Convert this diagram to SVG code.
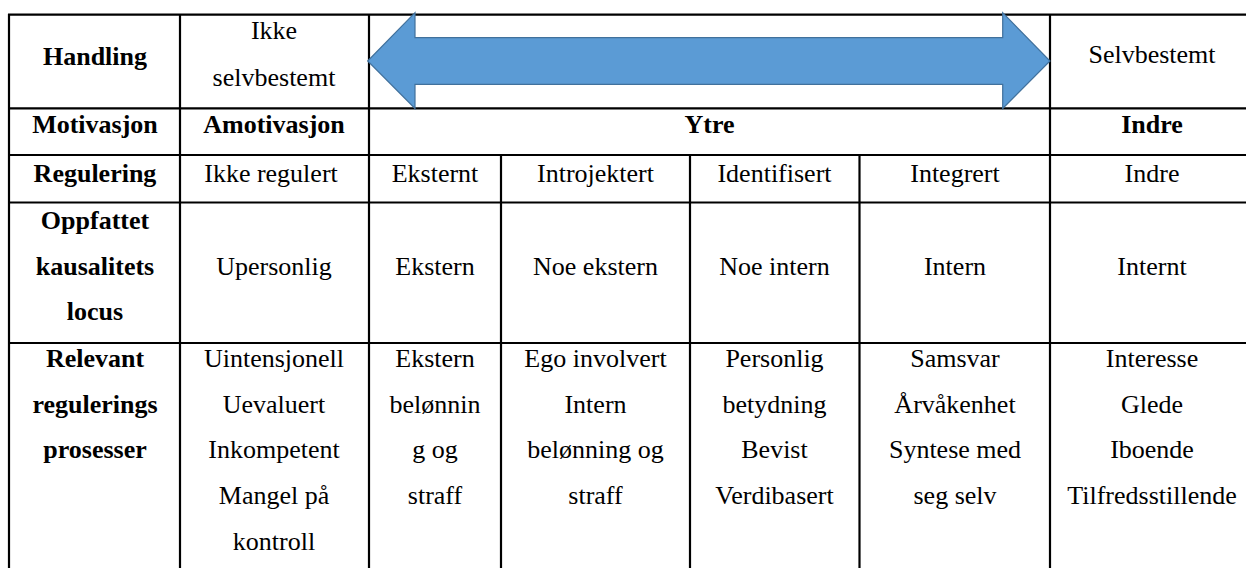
<svg xmlns="http://www.w3.org/2000/svg" width="1246" height="568" viewBox="0 0 1246 568">
<style>
.g{stroke:#000;stroke-width:2.2;fill:none}
.t text{font-size:26px;fill:#000;text-anchor:middle}
.b{font-weight:bold}
.arrow{fill:#5B9BD5;stroke:#41719C;stroke-width:1.2}
</style>
<rect width="1246" height="568" fill="#fff"/>
<g id="grid" class="g">
<line x1="8" y1="14.7" x2="1246" y2="14.7"/>
<line x1="8" y1="108.3" x2="1246" y2="108.3"/>
<line x1="8" y1="155" x2="1246" y2="155"/>
<line x1="8" y1="202.5" x2="1246" y2="202.5"/>
<line x1="8" y1="343" x2="1246" y2="343"/>
<line x1="9" y1="14" x2="9" y2="568"/>
<line x1="180" y1="14" x2="180" y2="568"/>
<line x1="369" y1="14" x2="369" y2="568"/>
<line x1="1050" y1="14" x2="1050" y2="568"/>
<line x1="501" y1="155" x2="501" y2="568"/>
<line x1="690" y1="155" x2="690" y2="568"/>
<line x1="859.5" y1="155" x2="859.5" y2="568"/>
</g>
<g id="arrow">
<polygon class="arrow" points="367.7,61 415,12.7 415,37.7 1002.7,37.7 1002.7,12.7 1050,61 1002.7,108.5 1002.7,84.3 415,84.3 415,108.5"/>
</g>
<g class="t">
<g id="row-handling" font-family="Liberation Serif">
<text class="b" x="95" y="65">Handling</text>
<text x="274" y="39">Ikke</text>
<text x="274" y="86">selvbestemt</text>
<text x="1152" y="63">Selvbestemt</text>
</g>
<g id="row-motivasjon" font-family="Liberation Serif">
<text class="b" x="95" y="133">Motivasjon</text>
<text class="b" x="274" y="133">Amotivasjon</text>
<text class="b" x="709.5" y="133">Ytre</text>
<text class="b" x="1152" y="133">Indre</text>
</g>
<g id="row-regulering" font-family="Liberation Serif">
<text class="b" x="95" y="182">Regulering</text>
<text x="271" y="182">Ikke regulert</text>
<text x="435" y="182">Eksternt</text>
<text x="595.5" y="182">Introjektert</text>
<text x="774.5" y="182">Identifisert</text>
<text x="955" y="182">Integrert</text>
<text x="1152" y="182">Indre</text>
</g>
<g id="row-locus" font-family="Liberation Serif">
<text class="b" x="95" y="229">Oppfattet</text>
<text class="b" x="95" y="275">kausalitets</text>
<text class="b" x="95" y="320">locus</text>
<text x="274" y="275">Upersonlig</text>
<text x="435" y="275">Ekstern</text>
<text x="595.5" y="275">Noe ekstern</text>
<text x="774.5" y="275">Noe intern</text>
<text x="955" y="275">Intern</text>
<text x="1152" y="275">Internt</text>
</g>
<g id="row-prosesser" font-family="Liberation Serif">
<text class="b" x="95" y="367">Relevant</text>
<text class="b" x="95" y="413">regulerings</text>
<text class="b" x="95" y="458">prosesser</text>
<text x="274" y="367">Uintensjonell</text>
<text x="274" y="413">Uevaluert</text>
<text x="274" y="458">Inkompetent</text>
<text x="274" y="504">Mangel på</text>
<text x="274" y="550">kontroll</text>
<text x="435" y="367">Ekstern</text>
<text x="435" y="413">belønnin</text>
<text x="435" y="458">g og</text>
<text x="435" y="504">straff</text>
<text x="595.5" y="367">Ego involvert</text>
<text x="595.5" y="413">Intern</text>
<text x="595.5" y="458">belønning og</text>
<text x="595.5" y="504">straff</text>
<text x="774.5" y="367">Personlig</text>
<text x="774.5" y="413">betydning</text>
<text x="774.5" y="458">Bevist</text>
<text x="774.5" y="504">Verdibasert</text>
<text x="955" y="367">Samsvar</text>
<text x="955" y="413">Årvåkenhet</text>
<text x="955" y="458">Syntese med</text>
<text x="955" y="504">seg selv</text>
<text x="1152" y="367">Interesse</text>
<text x="1152" y="413">Glede</text>
<text x="1152" y="458">Iboende</text>
<text x="1152" y="504">Tilfredsstillende</text>
</g>
</g>
</svg>
